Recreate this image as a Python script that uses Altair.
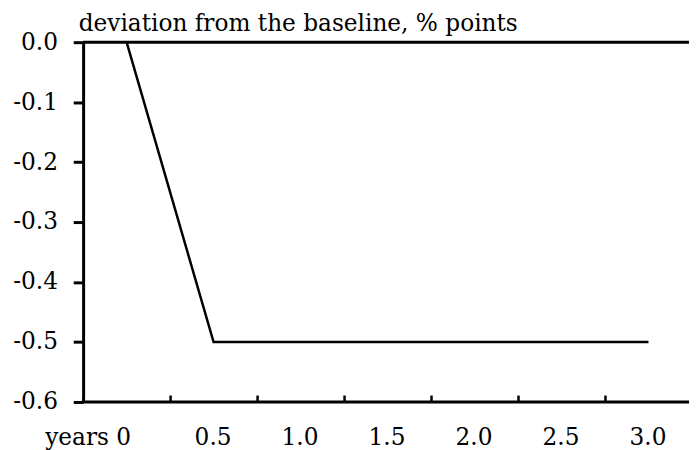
import altair as alt
import pandas as pd

years = ["0", "0.5", "1.0", "1.5", "2.0", "2.5", "3.0"]
deviation = [0.0, -0.5, -0.5, -0.5, -0.5, -0.5, -0.5]
y_ticks = [0.0, -0.1, -0.2, -0.3, -0.4, -0.5, -0.6]
frame_lines = [0.0, -0.6]

df = pd.DataFrame({"year": years, "dev": deviation})
frame = pd.DataFrame({"dev": frame_lines})

FONT = "DejaVu Serif"
FS = 23.5

x_enc = alt.X(
    "year:N",
    sort=years,
    scale=alt.Scale(range=[0, 616], paddingInner=0, paddingOuter=0),
    axis=alt.Axis(
        title=None,
        orient="bottom",
        offset=-7,
        domain=False,
        tickBand="extent",
        tickSize=7,
        tickWidth=2.5,
        tickColor="black",
        labelFont=FONT,
        labelFontSize=FS,
        labelColor="black",
        labelAngle=0,
        labelBaseline="alphabetic",
        labelPadding=43,
        labelExpr="datum.index == 0 ? 'years 0' : datum.label",
        labelAlign=alt.condition("datum.index == 0", alt.value("right"), alt.value("center")),
        labelOffset=alt.condition("datum.index == 0", alt.value(4), alt.value(-1)),
    ),
)

y_axis = alt.Axis(
    title="deviation from the baseline, % points",
    titleFont=FONT,
    titleFontSize=FS,
    titleFontWeight="normal",
    titleColor="black",
    titleAngle=0,
    titleAlign="left",
    titleBaseline="alphabetic",
    titleX=-5,
    titleY=-12,
    values=y_ticks,
    labelExpr="replace(format(datum.value, '.1f'), '\u2212', '-')",
    labelFont=FONT,
    labelFontSize=FS,
    labelColor="black",
    labelPadding=16,
    labelBaseline="middle",
    tickSize=10,
    tickWidth=3,
    tickColor="black",
    domainWidth=3,
    domainColor="black",
    grid=False,
)
y_scale = alt.Scale(domain=[-0.6, 0], nice=False)

rules = alt.Chart(frame).mark_rule(color="black", strokeWidth=3).encode(
    y=alt.Y("dev:Q", scale=y_scale, axis=y_axis)
)

line = alt.Chart(df).mark_line(color="black", strokeWidth=2.5).encode(
    x=x_enc, y=alt.Y("dev:Q", scale=y_scale, axis=y_axis)
)

chart = (
    alt.layer(rules, line)
    .properties(
        width=613,
        height=364,
        autosize=alt.AutoSizeParams(type="none"),
        padding={"left": 76, "top": 32, "right": 0, "bottom": 46},
    )
    .configure_view(stroke=None)
    .configure(background="white", font=FONT)
)

chart.save("out.html", embed_options={"renderer": "svg", "actions": False})
